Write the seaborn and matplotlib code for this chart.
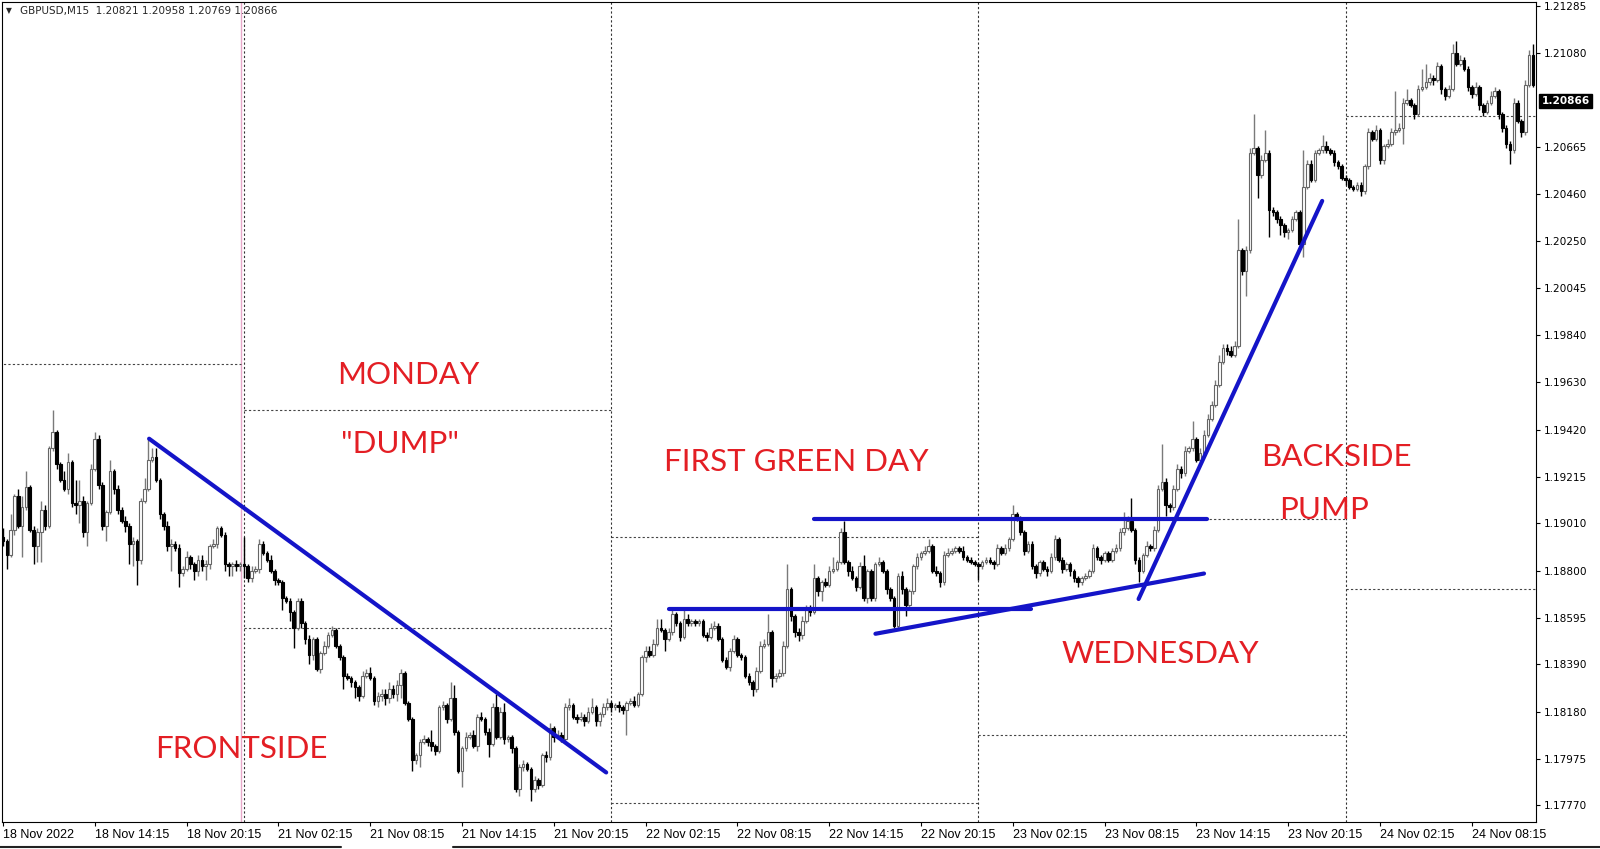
import numpy as np
import pandas as pd
import matplotlib
matplotlib.use("Agg")
import matplotlib.pyplot as plt
from matplotlib.lines import Line2D
import seaborn as sns

# ---------------- data ----------------
symbol_header = "GBPUSD,M15  1.20821 1.20958 1.20769 1.20866"
last_price = 1.20866
first_open = 1.1895

close = [
    1.1893, 1.1887, 1.1898, 1.1913, 1.1900, 1.1908, 1.1917, 1.1898, 1.1891, 1.1897,
    1.1907, 1.1900, 1.1934, 1.1941, 1.1927, 1.1920, 1.1916, 1.1928, 1.1910, 1.1909,
    1.1911, 1.1897, 1.1910, 1.1925, 1.1938, 1.1918, 1.1900, 1.1906, 1.1924, 1.1916,
    1.1907, 1.1902, 1.1900, 1.1892, 1.1893, 1.1885, 1.1911, 1.1916, 1.1929, 1.1930,
    1.1920, 1.1905, 1.1900, 1.1891, 1.1892, 1.1890, 1.1879, 1.1881, 1.1886, 1.1883,
    1.1880, 1.1885, 1.1882, 1.1883, 1.1891, 1.1892, 1.1899, 1.1896, 1.1883, 1.1882,
    1.1883, 1.1882, 1.1883, 1.1882, 1.1877, 1.1880, 1.1881, 1.1892, 1.1888, 1.1885,
    1.1880, 1.1876, 1.1875, 1.1868, 1.1867, 1.1862, 1.1855, 1.1867, 1.1857, 1.1850,
    1.1843, 1.1850, 1.1837, 1.1844, 1.1847, 1.1852, 1.1854, 1.1847, 1.1842, 1.1834,
    1.1833, 1.1831, 1.1829, 1.1825, 1.1834, 1.1835, 1.1833, 1.1823, 1.1825, 1.1826,
    1.1824, 1.1828, 1.1826, 1.1830, 1.1835, 1.1822, 1.1815, 1.1797, 1.1799, 1.1805,
    1.1806, 1.1805, 1.1803, 1.1801, 1.1820, 1.1821, 1.1815, 1.1824, 1.1809, 1.1792,
    1.1802, 1.1807, 1.1808, 1.1803, 1.1816, 1.1815, 1.1809, 1.1804, 1.1820, 1.1807,
    1.1818, 1.1806, 1.1807, 1.1802, 1.1784, 1.1794, 1.1795, 1.1793, 1.1784, 1.1788,
    1.1786, 1.1799, 1.1798, 1.1811, 1.1807, 1.1808, 1.1806, 1.1820, 1.1821, 1.1816,
    1.1815, 1.1816, 1.1814, 1.1818, 1.1820, 1.1814, 1.1817, 1.1820, 1.1822, 1.1820,
    1.1821, 1.1820, 1.1819, 1.1822, 1.1823, 1.1821, 1.1826, 1.1842, 1.1845, 1.1843,
    1.1848, 1.1855, 1.1854, 1.1850, 1.1853, 1.1861, 1.1857, 1.1851, 1.1859, 1.1857,
    1.1858, 1.1857, 1.1858, 1.1852, 1.1851, 1.1855, 1.1856, 1.1850, 1.1841, 1.1838,
    1.1845, 1.1850, 1.1843, 1.1842, 1.1834, 1.1831, 1.1828, 1.1836, 1.1847, 1.1848,
    1.1853, 1.1833, 1.1834, 1.1835, 1.1847, 1.1872, 1.1860, 1.1853, 1.1852, 1.1858,
    1.1863, 1.1862, 1.1877, 1.1871, 1.1875, 1.1874, 1.1880, 1.1881, 1.1884, 1.1897,
    1.1884, 1.1880, 1.1877, 1.1873, 1.1882, 1.1868, 1.1880, 1.1868, 1.1883, 1.1884,
    1.1880, 1.1872, 1.1868, 1.1856, 1.1878, 1.1872, 1.1865, 1.1871, 1.1882, 1.1886,
    1.1888, 1.1889, 1.1891, 1.1880, 1.1879, 1.1875, 1.1887, 1.1888, 1.1889, 1.1890,
    1.1889, 1.1886, 1.1885, 1.1884, 1.1883, 1.1882, 1.1884, 1.1885, 1.1884, 1.1883,
    1.1890, 1.1888, 1.1890, 1.1894, 1.1905, 1.1903, 1.1897, 1.1889, 1.1892, 1.1882,
    1.1879, 1.1884, 1.1881, 1.1880, 1.1886, 1.1894, 1.1885, 1.1881, 1.1883, 1.1880,
    1.1877, 1.1875, 1.1877, 1.1878, 1.1880, 1.1890, 1.1886, 1.1885, 1.1888, 1.1885,
    1.1889, 1.1890, 1.1897, 1.1899, 1.1902, 1.1898, 1.1885, 1.1880, 1.1887, 1.1891,
    1.1890, 1.1898, 1.1916, 1.1919, 1.1909, 1.1908, 1.1916, 1.1925, 1.1923, 1.1933,
    1.1934, 1.1938, 1.1929, 1.1932, 1.1940, 1.1947, 1.1953, 1.1962, 1.1972, 1.1978,
    1.1977, 1.1975, 1.1979, 1.2021, 1.2012, 1.2021, 1.2064, 1.2066, 1.2054, 1.2061,
    1.2064, 1.2039, 1.2038, 1.2035, 1.2032, 1.2029, 1.2030, 1.2035, 1.2038, 1.2024,
    1.2049, 1.2059, 1.2052, 1.2064, 1.2065, 1.2067, 1.2065, 1.2064, 1.2060, 1.2058,
    1.2053, 1.2052, 1.2049, 1.2048, 1.2050, 1.2047, 1.2058, 1.2073, 1.2070, 1.2074,
    1.2061, 1.2067, 1.2068, 1.2073, 1.2074, 1.2075, 1.2086, 1.2087, 1.2085, 1.2081,
    1.2092, 1.2093, 1.2095, 1.2097, 1.2096, 1.2102, 1.2092, 1.2089, 1.2092, 1.2108,
    1.2103, 1.2105, 1.2101, 1.2093, 1.2090, 1.2093, 1.2085, 1.2082, 1.2086, 1.2089,
    1.2091, 1.2081, 1.2075, 1.2068, 1.2065, 1.2086, 1.2078, 1.2073, 1.2094, 1.2107,
    1.2094,
]

# upper / lower wick beyond the body, in pips (0.0001)
wick_up = [
    4, 1, 7, 1, 3, 5, 7, 1, 2, 2,   4, 2, 1, 10, 1, 1, 4, 4, 1, 10,
    9, 2, 1, 2, 3, 2, 1, 1, 5, 1,   2, 1, 2, 1, 2, 1, 1, 5, 9, 4,
    4, 1, 1, 2, 2, 1, 2, 1, 3, 1,   1, 2, 2, 2, 1, 2, 1, 1, 1, 1,
    1, 2, 1, 12, 1, 2, 1, 2, 1, 1,  2, 1, 1, 1, 1, 1, 1, 1, 1, 1,
    2, 1, 1, 1, 2, 1, 2, 1, 1, 1,   1, 1, 1, 1, 2, 2, 3, 1, 2, 2,
    2, 3, 2, 2, 2, 1, 1, 1, 1, 1,   2, 1, 5, 1, 1, 2, 1, 7, 6, 1,
    1, 2, 1, 2, 1, 2, 1, 2, 2, 6,   2, 4, 1, 1, 1, 1, 2, 1, 1, 2,
    1, 1, 2, 2, 1, 2, 1, 2, 3, 1,   1, 2, 1, 2, 4, 1, 1, 2, 2, 1,
    1, 2, 1, 1, 1, 2, 1, 1, 2, 2,   2, 4, 4, 1, 2, 2, 1, 1, 4, 2,
    1, 1, 1, 1, 1, 2, 2, 1, 1, 1,   1, 2, 1, 1, 1, 1, 1, 2, 2, 2,
    8, 1, 1, 2, 2, 11, 1, 1, 2, 2,  2, 2, 6, 1, 1, 2, 2, 5, 1, 2,
    5, 1, 2, 1, 2, 5, 1, 1, 1, 2,   1, 1, 1, 1, 1, 2, 1, 1, 1, 2,
    1, 2, 3, 1, 2, 1, 2, 2, 1, 1,   1, 2, 1, 1, 1, 1, 1, 1, 1, 1,
    2, 1, 2, 1, 4, 1, 1, 1, 1, 1,   1, 1, 1, 1, 2, 2, 1, 1, 1, 1,
    1, 1, 1, 1, 1, 2, 1, 1, 1, 1,   1, 2, 2, 7, 2, 10, 1, 1, 1, 2,
    1, 2, 2, 17, 2, 1, 2, 2, 1, 2,  1, 8, 1, 2, 2, 2, 2, 2, 3, 2,
    2, 2, 2, 14, 1, 2, 2, 15, 1, 2, 10, 1, 1, 1, 1, 1, 1, 1, 1, 1,
    16, 2, 2, 1, 1, 5, 2, 1, 1, 1,  1, 1, 1, 1, 1, 1, 1, 2, 1, 2,
    1, 1, 2, 2, 17, 2, 2, 5, 1, 1,  2, 8, 8, 2, 1, 2, 1, 1, 2, 4,
    5, 2, 1, 1, 1, 2, 1, 1, 1, 2,   2, 1, 1, 1, 1, 2, 1, 1, 2, 2,
    5,
]
wick_dn = [
    2, 6, 1, 2, 1, 14, 1, 1, 8, 7,  13, 2, 1, 1, 2, 1, 1, 2, 2, 4,
    8, 2, 6, 1, 1, 2, 2, 7, 1, 2,   2, 1, 3, 9, 10, 11, 2, 1, 1, 1,
    1, 2, 2, 2, 11, 1, 6, 1, 1, 2,  4, 2, 2, 6, 2, 1, 2, 1, 3, 4,
    4, 2, 2, 5, 2, 2, 1, 2, 1, 1,   1, 2, 1, 5, 1, 4, 9, 1, 2, 2,
    4, 2, 1, 2, 1, 1, 1, 1, 1, 6,   1, 2, 5, 2, 1, 1, 1, 2, 3, 2,
    3, 2, 2, 3, 6, 1, 1, 5, 2, 5,   1, 2, 2, 2, 1, 1, 2, 1, 1, 1,
    7, 1, 1, 1, 2, 1, 1, 6, 1, 1,   1, 2, 1, 2, 1, 3, 2, 1, 5, 1,
    2, 1, 2, 1, 2, 1, 1, 1, 1, 1,   2, 1, 2, 1, 1, 2, 2, 1, 1, 2,
    1, 2, 2, 11, 1, 1, 1, 1, 2, 1,  1, 1, 1, 5, 1, 1, 1, 2, 1, 1,
    1, 1, 1, 1, 2, 1, 1, 1, 1, 1,   2, 1, 1, 1, 1, 1, 3, 1, 1, 1,
    1, 4, 2, 1, 1, 1, 2, 2, 3, 2,   1, 2, 1, 2, 4, 1, 1, 1, 1, 1,
    1, 2, 1, 2, 1, 1, 2, 1, 1, 1,   1, 2, 1, 1, 2, 2, 5, 1, 1, 1,
    1, 1, 1, 1, 1, 2, 1, 1, 1, 1,   1, 1, 1, 1, 1, 6, 1, 1, 1, 2,
    1, 1, 1, 1, 1, 1, 1, 2, 1, 1,   2, 1, 1, 2, 1, 1, 1, 2, 1, 2,
    2, 2, 1, 1, 1, 1, 1, 2, 1, 1,   1, 1, 1, 1, 1, 1, 2, 5, 1, 1,
    1, 1, 1, 1, 5, 2, 1, 1, 2, 1,   1, 1, 1, 1, 1, 1, 1, 1, 1, 1,
    2, 1, 1, 1, 2, 11, 1, 1, 10, 1, 1, 12, 2, 2, 4, 2, 3, 1, 1, 2,
    6, 1, 1, 1, 1, 1, 1, 1, 2, 1,   1, 2, 1, 1, 1, 2, 1, 1, 1, 1,
    2, 2, 1, 1, 1, 1, 7, 1, 1, 2,   1, 1, 1, 1, 2, 1, 2, 2, 1, 1,
    1, 1, 1, 2, 2, 1, 2, 2, 1, 1,   1, 2, 2, 2, 6, 1, 1, 2, 1, 1,
    1,
]

xtick_pos = [0, 24, 48, 72, 96, 120, 144, 168, 192, 216, 240, 264, 288, 312, 336, 360, 384]
xtick_labels = ["18 Nov 2022", "18 Nov 14:15", "18 Nov 20:15", "21 Nov 02:15", "21 Nov 08:15",
                "21 Nov 14:15", "21 Nov 20:15", "22 Nov 02:15", "22 Nov 08:15", "22 Nov 14:15",
                "22 Nov 20:15", "23 Nov 02:15", "23 Nov 08:15", "23 Nov 14:15", "23 Nov 20:15",
                "24 Nov 02:15", "24 Nov 08:15"]
ytick_vals = [1.21285, 1.21080, 1.20665, 1.20460, 1.20250, 1.20045, 1.19840, 1.19630, 1.19420,
              1.19215, 1.19010, 1.18800, 1.18595, 1.18390, 1.18180, 1.17975, 1.17770]

day_starts = [63, 159, 255, 351]
week_sep = 62.2
# previous-day range boxes: start, end, low, high
box_start = [63, 159, 255, 351]
box_end = [159, 255, 351, 401]
box_low = [1.1855, 1.1778, 1.1808, 1.1872]
box_high = [1.1951, 1.1895, 1.1903, 1.2080]
prev_high_level = 1.1971

# trend lines: segment id, x0, y0, x1, y1
tl_id = ["a", "b", "c", "d", "e"]
tl_x0 = [38.2, 174.2, 228.1, 212.1, 296.9]
tl_y0 = [1.19382, 1.18632, 1.18524, 1.19031, 1.18677]
tl_x1 = [157.7, 268.7, 314.0, 314.8, 344.9]
tl_y1 = [1.17914, 1.18632, 1.18789, 1.19031, 1.20428]

notes = ["MONDAY", "\"DUMP\"", "FIRST GREEN DAY", "FRONTSIDE", "WEDNESDAY", "BACKSIDE", "PUMP"]
note_x = [105.9, 103.8, 207.3, 62.2, 302.5, 348.7, 345.5]
note_y = [1.19664, 1.19359, 1.19278, 1.18017, 1.18434, 1.19301, 1.19067]

# ---------------- figure ----------------
sns.set_theme(style="white")
plt.rcParams['font.family'] = ['DejaVu Sans']

fig = plt.figure(figsize=(16, 8.49), dpi=100)
fig.patch.set_facecolor("white")
ax = fig.add_axes([0.00125, 0.0318, 0.95875, 0.96584])
ax.set_facecolor("white")

n = len(close)
idx = np.arange(n)
c = np.array(close)
o = np.concatenate([[first_open], c[:-1]])
hi = np.maximum(o, c) + np.array(wick_up) * 1e-4
lo = np.minimum(o, c) - np.array(wick_dn) * 1e-4
up = c >= o

# day separators and previous-day ranges
dot = (0, (2, 2))
for d in day_starts:
    ax.axvline(d, color="#333333", lw=0.8, ls=dot, zorder=1)
ax.axvline(week_sep, color="#e6a8c8", lw=1.0, zorder=1)
ax.hlines(prev_high_level, -1, week_sep, color="#444444", lw=0.8, ls=dot, zorder=1)
for s, e, l, h in zip(box_start, box_end, box_low, box_high):
    ax.hlines([l, h], s, e, color="#444444", lw=0.8, ls=dot, zorder=1)

# candles
ax.vlines(idx[up], lo[up], hi[up], color="#7a7a7a", lw=1.0, zorder=2)
ax.vlines(idx[~up], lo[~up], hi[~up], color="black", lw=1.0, zorder=2)
body_lo = np.minimum(o, c)
body_h = np.maximum(np.abs(c - o), 0.00002)
ax.bar(idx[up], body_h[up], bottom=body_lo[up], width=0.68, color="white",
       edgecolor="#666666", linewidth=0.8, zorder=3)
ax.bar(idx[~up], body_h[~up], bottom=body_lo[~up], width=0.68, color="black",
       edgecolor="black", linewidth=0.8, zorder=3)

# trend lines via seaborn
rows = []
for k, x0, y0, x1, y1 in zip(tl_id, tl_x0, tl_y0, tl_x1, tl_y1):
    rows.append({"seg": k, "x": x0, "y": y0})
    rows.append({"seg": k, "x": x1, "y": y1})
tl = pd.DataFrame(rows)
sns.lineplot(data=tl, x="x", y="y", units="seg", estimator=None, color="#1414c8",
             lw=3.0, ax=ax, zorder=5, legend=False)

for t, x, y in zip(notes, note_x, note_y):
    ax.text(x, y, t, color="#e31e24", fontsize=22.5, ha="center", va="center",
            family=["Lato", "DejaVu Sans"], zorder=6)

# axes formatting
ax.set_xlim(-0.26, 400.8)
ax.set_ylim(1.17696, 1.21303)
ax.set_xlabel("")
ax.set_ylabel("")
ax.yaxis.tick_right()
ax.set_yticks(ytick_vals)
ax.set_yticklabels([f"{v:.5f}" for v in ytick_vals])
ax.set_xticks(xtick_pos)
ax.set_xticklabels(xtick_labels)
for lab in ax.get_xticklabels():
    lab.set_ha("left")
    lab.set_family(["Liberation Sans", "DejaVu Sans"])
ax.tick_params(axis="y", which="both", right=True, left=False, length=3, width=0.8,
               direction="out", labelsize=7.6, pad=3, colors="black")
ax.tick_params(axis="x", which="both", bottom=True, length=3, width=0.8,
               direction="out", labelsize=9, pad=2, colors="black")
for sp in ax.spines.values():
    sp.set_color("black")
    sp.set_linewidth(0.8)
ax.grid(False)

# current price tag
ax.text(1.0035, last_price, f"{last_price:.5f}", transform=ax.get_yaxis_transform(),
        color="white", fontsize=7.6, ha="left", va="center", fontweight="bold",
        bbox=dict(boxstyle="square,pad=0.18", fc="black", ec="black"), zorder=10)

# header
fig.text(0.0035, 0.9875, "\u25bc", fontsize=5.5, va="center", ha="left")
fig.text(0.0125, 0.9875, symbol_header, fontsize=7.5, va="center", ha="left")

# window bottom edge
fig.add_artist(Line2D([0, 341 / 1600], [2 / 849, 2 / 849], color="#222222", lw=1.5,
                      transform=fig.transFigure))
fig.add_artist(Line2D([453 / 1600, 1], [2 / 849, 2 / 849], color="#222222", lw=1.5,
                      transform=fig.transFigure))

fig.savefig("out.png", dpi=100, facecolor="white")
